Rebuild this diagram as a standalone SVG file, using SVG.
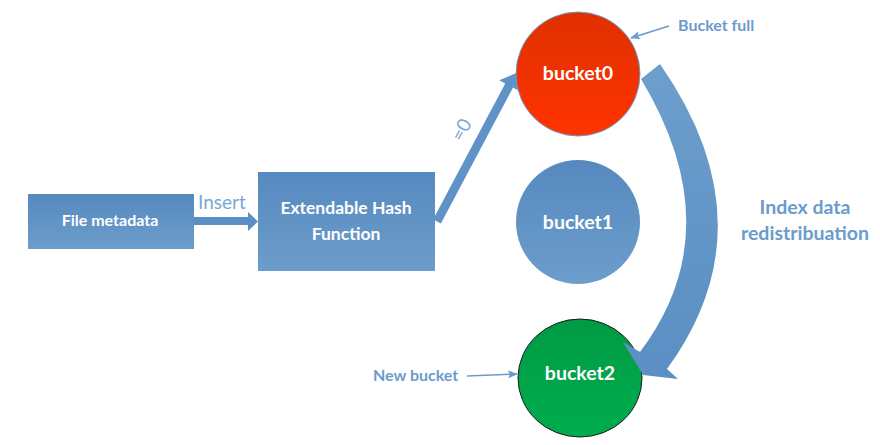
<svg xmlns="http://www.w3.org/2000/svg" width="880" height="445" viewBox="0 0 880 445">
<style>
.lbl{font-family:Lato,"Open Sans","Liberation Sans",sans-serif;font-weight:bold;fill:#ffffff;text-anchor:middle}
.note{font-family:Lato,"Open Sans","Liberation Sans",sans-serif;font-weight:bold;fill:#6b9bcc}
.thin{font-family:Lato,"Open Sans","Liberation Sans",sans-serif;fill:#7aa7d4}
.ptr{stroke:#6b9bcc;stroke-width:1.6;fill:none;marker-end:url(#ah)}
</style>
<defs>
<linearGradient id="gBlue" x1="0" y1="0" x2="0" y2="1">
<stop offset="0" stop-color="#5689bf"/><stop offset="1" stop-color="#6c9dcb"/>
</linearGradient>
<linearGradient id="gRed" x1="0" y1="0" x2="0" y2="1">
<stop offset="0" stop-color="#e03000"/><stop offset="1" stop-color="#ff3300"/>
</linearGradient>
<linearGradient id="gGreen" x1="0" y1="0" x2="0" y2="1">
<stop offset="0" stop-color="#009b44"/><stop offset="1" stop-color="#00ad4f"/>
</linearGradient>
<linearGradient id="gArc" x1="0" y1="0" x2="0" y2="1">
<stop offset="0" stop-color="#6c9fcc"/><stop offset="1" stop-color="#5b8ec3"/>
</linearGradient>
<marker id="ah" markerWidth="10" markerHeight="8" refX="9" refY="4" orient="auto" markerUnits="userSpaceOnUse">
<path d="M0,0 L10,4 L0,8 L2,4 Z" fill="#6b9bcc"/>
</marker>
</defs>

<g id="file-metadata">
<rect x="28" y="194" width="166" height="55" fill="url(#gBlue)"/>
<text class="lbl" x="110" y="226" font-size="16">File metadata</text>
</g>

<g id="hash-function">
<rect x="258" y="172" width="177" height="99" fill="url(#gBlue)"/>
<text class="lbl" x="346" y="214" font-size="17.5">Extendable Hash</text>
<text class="lbl" x="346" y="240" font-size="17.5">Function</text>
</g>

<g id="bucket1">
<circle cx="578" cy="222" r="62" fill="url(#gBlue)"/>
<text class="lbl" x="578" y="229" font-size="19.5">bucket1</text>
</g>

<g id="bucket2">
<ellipse cx="580" cy="378" rx="62" ry="59" fill="url(#gGreen)" stroke="#1a1a1a" stroke-width="1"/>
<text class="lbl" x="580" y="380" font-size="19.5">bucket2</text>
</g>

<g id="connectors">
<polygon points="194,217 248,217 248,212 258,221.5 248,231 248,225 194,225" fill="#5b8ec3"/>
<polygon points="433.1,219.4 505.2,83.4 499.4,80.2 515.8,73.2 518.8,90.8 513,87.6 440.9,223.6" fill="#5f92c6"/>
<path d="M641,79 L660,64 Q772,225 667,369 L678,379 L643,375 L623,342 L640,352 Q732,230 641,79 Z" fill="url(#gArc)"/>
<line class="ptr" x1="669" y1="26" x2="631" y2="38"/>
<line class="ptr" x1="467" y1="376" x2="517" y2="374"/>
</g>

<g id="bucket0">
<circle cx="578" cy="74" r="62" fill="url(#gRed)" stroke="#6b9bcc" stroke-width="1"/>
<text class="lbl" x="578" y="80" font-size="19.5">bucket0</text>
</g>

<g id="labels">
<text class="thin" x="198" y="209" font-size="19">Insert</text>
<text class="thin" x="0" y="0" font-size="19" text-anchor="middle" transform="translate(467,133) rotate(-61)">=0</text>
<text class="note" x="678" y="31" font-size="16">Bucket full</text>
<text class="note" x="373" y="381" font-size="16">New bucket</text>
<text class="note" x="805" y="214" font-size="19.5" text-anchor="middle">Index data</text>
<text class="note" x="805" y="240" font-size="19.5" text-anchor="middle">redistribuation</text>
</g>
</svg>
